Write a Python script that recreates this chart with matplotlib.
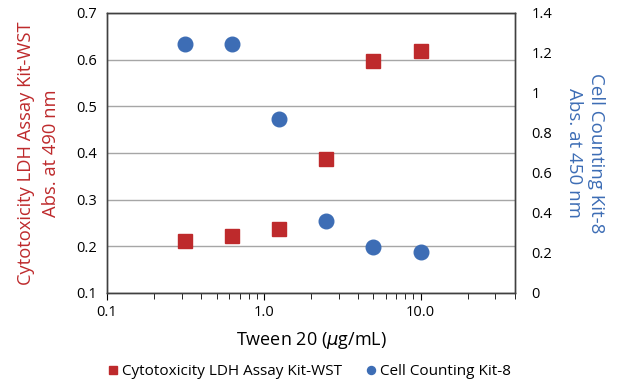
import numpy as np
import matplotlib
matplotlib.use('Agg')
import matplotlib.pyplot as plt
from matplotlib.ticker import FixedLocator, LogLocator, NullFormatter

plt.rcParams['font.family'] = ['Open Sans', 'DejaVu Sans']

# Tween 20 concentration (ug/mL)
conc = [0.3125, 0.625, 1.25, 2.5, 5, 10]
ldh = [0.211, 0.223, 0.236, 0.387, 0.598, 0.619]   # left axis, Abs 490 nm
cck8 = [1.245, 1.245, 0.870, 0.361, 0.230, 0.205]  # right axis, Abs 450 nm

C_RED = '#BE2A2C'
C_BLUE = '#3D6DB5'
C_GRID = '#A6A6A6'

fig = plt.figure(figsize=(6.19, 3.80), dpi=100)
ax = fig.add_axes([0.173, 0.229, 0.659, 0.737])
ax2 = ax.twinx()

ax.set_xscale('log')
ax.set_xlim(0.1, 40)
ax.set_ylim(0.1, 0.7)
ax.set_yticks([0.1, 0.2, 0.3, 0.4, 0.5, 0.6, 0.7])
ax.set_yticklabels(['0.1', '0.2', '0.3', '0.4', '0.5', '0.6', '0.7'])
ax.yaxis.grid(True, color=C_GRID, lw=1.0)
ax.set_axisbelow(True)
ax.tick_params(axis='y', length=0, labelsize=10.5, pad=7)

ax.xaxis.set_major_locator(FixedLocator([0.1, 1, 10]))
ax.set_xticklabels(['0.1', '1.0', '10.0'])
ax.xaxis.set_minor_locator(LogLocator(base=10, subs=np.arange(2, 10)))
ax.xaxis.set_minor_formatter(NullFormatter())
ax.tick_params(axis='x', which='major', length=5, direction='out', labelsize=10.5, pad=4)
ax.tick_params(axis='x', which='minor', length=4, direction='out')

ax2.set_ylim(0, 1.4)
ax2.set_yticks([0, 0.2, 0.4, 0.6, 0.8, 1.0, 1.2, 1.4])
ax2.set_yticklabels(['0', '0.2', '0.4', '0.6', '0.8', '1', '1.2', '1.4'])
ax2.tick_params(axis='y', length=0, labelsize=10.5, pad=12)

for a in (ax, ax2):
    for s in a.spines.values():
        s.set_color('#404040')
        s.set_linewidth(1.0)

h1, = ax.plot(conc, ldh, 's', color=C_RED, ms=10, ls='none',
              label='Cytotoxicity LDH Assay Kit-WST', zorder=3)
h2, = ax2.plot(conc, cck8, 'o', color=C_BLUE, ms=10.5, ls='none',
               label='Cell Counting Kit-8', zorder=3)

ax.set_xlabel(r'Tween 20 ($\mu$g/mL)', fontsize=13, labelpad=7)
ax.set_ylabel('Cytotoxicity LDH Assay Kit-WST\nAbs. at 490 nm', color=C_RED,
              fontsize=13.2, linespacing=1.5, labelpad=12)
ax2.set_ylabel('Cell Counting Kit-8\nAbs. at 450 nm', color=C_BLUE,
               fontsize=13.5, linespacing=1.3, rotation=270, labelpad=38)

fig.legend([h1, h2], [h1.get_label(), h2.get_label()], loc='center',
           bbox_to_anchor=(0.5, 0.022), ncol=2, frameon=False, fontsize=11,
           markerscale=0.55, handlelength=0.6, handletextpad=0.3, columnspacing=1.6)

fig.savefig('out.png', dpi=100)
